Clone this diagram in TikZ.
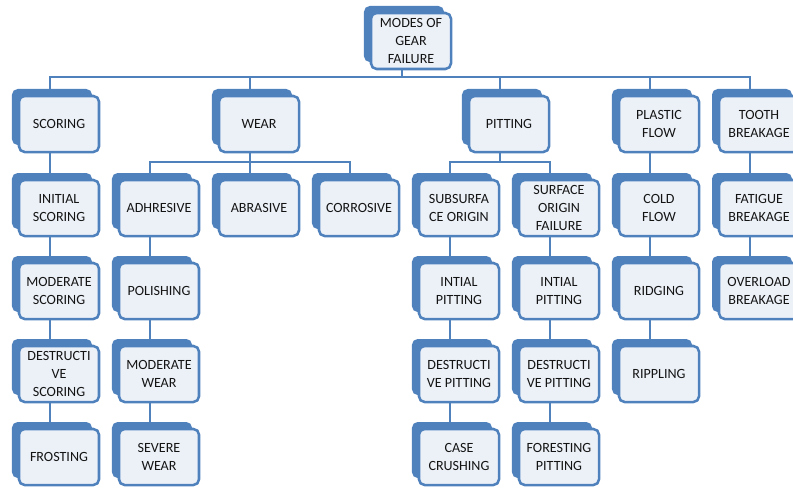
\documentclass[tikz,border=0pt]{standalone}
\usepackage{fontspec}
\setmainfont{Carlito}
\usetikzlibrary{shadows, backgrounds}

\definecolor{gearblue}{RGB}{79,129,189}
\definecolor{gearfill}{RGB}{236,241,248}
\definecolor{geartext}{RGB}{20,20,20}

\begin{document}
\begin{tikzpicture}[
  x=0.025cm, y=-0.025cm,
  mode/.style={draw=gearblue, line width=1.8pt, fill=gearfill, rounded corners=4pt,
    minimum width=2cm, minimum height=1.4cm, inner sep=1pt, align=center,
    text=geartext, font=\fontsize{10}{13}\selectfont,
    general shadow={fill=gearblue, shadow xshift=-0.175cm, shadow yshift=0.175cm}},
  link/.style={line width=1.5pt, draw=gearblue}
]
\useasboundingbox (0,0) rectangle (793,489);

% root
\node[mode] (modes) at (411,41) {MODES OF\\GEAR\\FAILURE};

% first level
\node[mode] (scoring) at (59,124)  {SCORING};
\node[mode] (wear)    at (259,124) {WEAR};
\node[mode] (pitting) at (509,124) {PITTING};
\node[mode] (plastic) at (659,124) {PLASTIC\\FLOW};
\node[mode] (tooth)   at (759,124) {TOOTH\\BREAKAGE};

% second row
\node[mode] (iscoring)  at (59,208)  {INITIAL\\SCORING};
\node[mode] (adhesive)  at (159,208) {ADHRESIVE};
\node[mode] (abrasive)  at (259,208) {ABRASIVE};
\node[mode] (corrosive) at (359,208) {CORROSIVE};
\node[mode] (subsurf)   at (459,208) {SUBSURFA\\CE ORIGIN};
\node[mode] (surforig)  at (559,208) {SURFACE\\ORIGIN\\FAILURE};
\node[mode] (coldflow)  at (659,208) {COLD\\FLOW};
\node[mode] (fatigue)   at (759,208) {FATIGUE\\BREAKAGE};

% third row
\node[mode] (mscoring)  at (59,291)  {MODERATE\\SCORING};
\node[mode] (polishing) at (159,291) {POLISHING};
\node[mode] (ipitsub)   at (459,291) {INTIAL\\PITTING};
\node[mode] (ipitsurf)  at (559,291) {INTIAL\\PITTING};
\node[mode] (ridging)   at (659,291) {RIDGING};
\node[mode] (overload)  at (759,291) {OVERLOAD\\BREAKAGE};

% fourth row
\node[mode] (dscoring)  at (59,374)  {DESTRUCTI\\VE\\SCORING};
\node[mode] (mwear)     at (159,374) {MODERATE\\WEAR};
\node[mode] (dpitsub)   at (459,374) {DESTRUCTI\\VE PITTING};
\node[mode] (dpitsurf)  at (559,374) {DESTRUCTI\\VE PITTING};
\node[mode] (rippling)  at (659,374) {RIPPLING};

% fifth row
\node[mode] (frosting)  at (59,457)  {FROSTING};
\node[mode] (swear)     at (159,457) {SEVERE\\WEAR};
\node[mode] (crushing)  at (459,457) {CASE\\CRUSHING};
\node[mode] (foresting) at (559,457) {FORESTING\\PITTING};

% connectors, behind the boxes
\begin{scope}[on background layer]
\draw[link] ([xshift=-2.25mm]modes.south) -- ++(0,7) -| ([xshift=-2.25mm]scoring.north);
\draw[link] ([xshift=-2.25mm]modes.south) -- ++(0,7) -| ([xshift=-2.25mm]wear.north);
\draw[link] ([xshift=-2.25mm]modes.south) -- ++(0,7) -| ([xshift=-2.25mm]pitting.north);
\draw[link] ([xshift=-2.25mm]modes.south) -- ++(0,7) -| ([xshift=-2.25mm]plastic.north);
\draw[link] ([xshift=-2.25mm]modes.south) -- ++(0,7) -| ([xshift=-2.25mm]tooth.north);

\draw[link] ([xshift=-2.25mm]wear.south) -- ++(0,9) -| ([xshift=-2.25mm]adhesive.north);
\draw[link] ([xshift=-2.25mm]wear.south) -- ++(0,9) -| ([xshift=-2.25mm]abrasive.north);
\draw[link] ([xshift=-2.25mm]wear.south) -- ++(0,9) -| ([xshift=-2.25mm]corrosive.north);
\draw[link] ([xshift=-2.25mm]pitting.south) -- ++(0,9) -| ([xshift=-2.25mm]subsurf.north);
\draw[link] ([xshift=-2.25mm]pitting.south) -- ++(0,9) -| ([xshift=-2.25mm]surforig.north);

\draw[link] ([xshift=-2.25mm]scoring.south) -- ([xshift=-2.25mm]iscoring.north);
\draw[link] ([xshift=-2.25mm]iscoring.south) -- ([xshift=-2.25mm]mscoring.north);
\draw[link] ([xshift=-2.25mm]mscoring.south) -- ([xshift=-2.25mm]dscoring.north);
\draw[link] ([xshift=-2.25mm]dscoring.south) -- ([xshift=-2.25mm]frosting.north);

\draw[link] ([xshift=-2.25mm]adhesive.south) -- ([xshift=-2.25mm]polishing.north);
\draw[link] ([xshift=-2.25mm]polishing.south) -- ([xshift=-2.25mm]mwear.north);
\draw[link] ([xshift=-2.25mm]mwear.south) -- ([xshift=-2.25mm]swear.north);

\draw[link] ([xshift=-2.25mm]subsurf.south) -- ([xshift=-2.25mm]ipitsub.north);
\draw[link] ([xshift=-2.25mm]ipitsub.south) -- ([xshift=-2.25mm]dpitsub.north);
\draw[link] ([xshift=-2.25mm]dpitsub.south) -- ([xshift=-2.25mm]crushing.north);
\draw[link] ([xshift=-2.25mm]surforig.south) -- ([xshift=-2.25mm]ipitsurf.north);
\draw[link] ([xshift=-2.25mm]ipitsurf.south) -- ([xshift=-2.25mm]dpitsurf.north);
\draw[link] ([xshift=-2.25mm]dpitsurf.south) -- ([xshift=-2.25mm]foresting.north);

\draw[link] ([xshift=-2.25mm]plastic.south) -- ([xshift=-2.25mm]coldflow.north);
\draw[link] ([xshift=-2.25mm]coldflow.south) -- ([xshift=-2.25mm]ridging.north);
\draw[link] ([xshift=-2.25mm]ridging.south) -- ([xshift=-2.25mm]rippling.north);

\draw[link] ([xshift=-2.25mm]tooth.south) -- ([xshift=-2.25mm]fatigue.north);
\draw[link] ([xshift=-2.25mm]fatigue.south) -- ([xshift=-2.25mm]overload.north);
\end{scope}

\end{tikzpicture}
\end{document}
